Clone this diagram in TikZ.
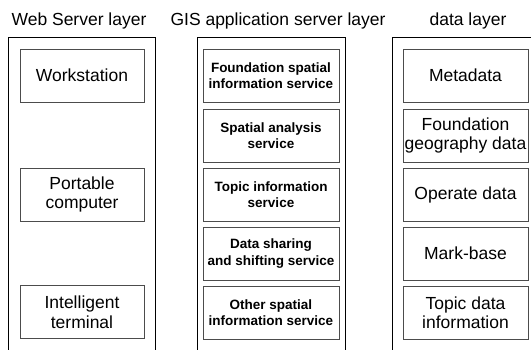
\documentclass[tikz,border=0pt]{standalone}
\usepackage{fontspec}
\setmainfont{Liberation Sans}

\begin{document}
\begin{tikzpicture}[x=1pt,y=-1pt,
  layer/.style={line width=.9pt},
  box/.style={draw=black!70,line width=.8pt,minimum height=53pt,inner sep=0pt,align=center,
    font=\fontsize{17.5}{19.5}\selectfont},
  svcbox/.style={box,minimum width=136pt,font=\fontsize{13.5}{16.5}\selectfont\bfseries},
  title/.style={anchor=base,font=\fontsize{17.5}{20}\selectfont}]
\useasboundingbox (0,0) rectangle (531,350);
% layer titles
\node[title] (tweb) at (79,26) {Web Server layer};
\node[title] (tgis) at (278,26) {GIS application server layer};
\node[title] (tdata) at (468,26) {data layer};
% layer frames (open at the bottom)
\draw[layer] (8.7,350) -- (8.7,37) -- (155,37) -- (155,350);
\draw[layer] (197,350) -- (197,37) -- (345,37) -- (345,350);
\draw[layer] (392,350) -- (392,37) -- (531,37);
% web server layer
\node[box,minimum width=124pt] (work) at (82,75.5) {Workstation};
\node[box,minimum width=124pt] (port) at (82,194.5) {Portable\\computer};
\node[box,minimum width=124pt] (term) at (82,312) {Intelligent\\terminal};
% GIS application server layer
\node[svcbox] (fsis) at (271,75.5) {Foundation spatial\\information service};
\node[svcbox] (sas) at (271,135.5) {Spatial analysis\\service};
\node[svcbox] (tis) at (271,194.5) {Topic information\\service};
\node[svcbox] (dss) at (271,253.5) {Data sharing\\and shifting service};
\node[svcbox] (osis) at (271,312.5) {Other spatial\\information service};
% data layer
\node[box,minimum width=125pt] (meta) at (465.5,75.5) {Metadata};
\node[box,minimum width=125pt] (fgd) at (465.5,135.5) {Foundation\\geography data};
\node[box,minimum width=125pt] (opd) at (465.5,194.5) {Operate data};
\node[box,minimum width=125pt] (mark) at (465.5,253.5) {Mark-base};
\node[box,minimum width=125pt] (tdi) at (465.5,312.5) {Topic data\\information};
\end{tikzpicture}
\end{document}
